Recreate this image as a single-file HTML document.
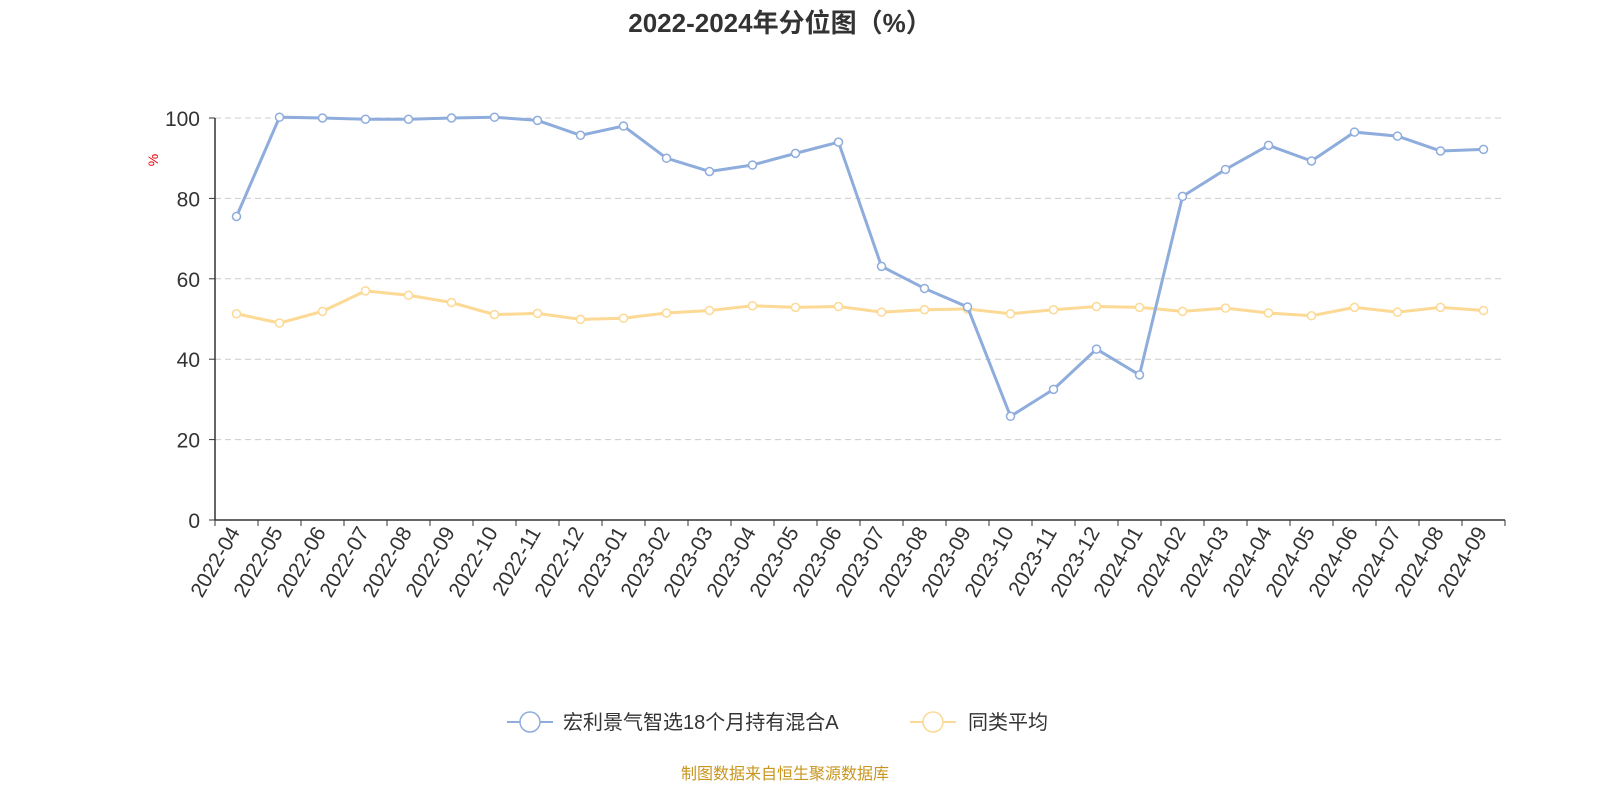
<!DOCTYPE html>
<html><head><meta charset="utf-8"><style>
body{margin:0;background:#fff;width:1600px;height:800px;overflow:hidden}
svg text{font-family:"Liberation Sans","Noto Sans CJK SC",sans-serif}
</style></head><body>
<svg id="s" width="1600" height="800" xmlns="http://www.w3.org/2000/svg">
<text x="780" y="32" text-anchor="middle" font-size="26" font-weight="bold" fill="#333">2022-2024年分位图（%）</text>
<text x="158" y="160" font-size="14" fill="#e00" transform="rotate(-90 158 160)" text-anchor="middle">%</text>
<g id="grid"></g>
<line x1="215" y1="118" x2="215" y2="520" stroke="#333" stroke-width="1.5"/>
<line x1="215" y1="520" x2="1505" y2="520" stroke="#333" stroke-width="1.5"/>
<g id="ax"></g>
<g id="ser"></g>
<line x1="507" y1="722" x2="553" y2="722" stroke="#8eacdc" stroke-width="2"/>
<circle cx="530" cy="722" r="10" fill="#fff" stroke="#8eacdc" stroke-width="1.5"/>
<text x="563" y="729" font-size="20" fill="#333">宏利景气智选18个月持有混合A</text>
<line x1="910" y1="722" x2="956" y2="722" stroke="#fcd994" stroke-width="2"/>
<circle cx="933" cy="722" r="10" fill="#fff" stroke="#fcd994" stroke-width="1.5"/>
<text x="968" y="729" font-size="20" fill="#333">同类平均</text>
<text x="785" y="779" text-anchor="middle" font-size="16" fill="#c8961e">制图数据来自恒生聚源数据库</text>
</svg>
<script>
var NS="http://www.w3.org/2000/svg";
function el(p,t,a,tx){var e=document.createElementNS(NS,t);for(var k in a)e.setAttribute(k,a[k]);if(tx!=null)e.textContent=tx;document.getElementById(p).appendChild(e);}
function Y(v){return 520-v*4.02;}
for(var v=0;v<=100;v+=20){var y=Y(v);if(v>0)el("grid","line",{x1:215,x2:1505,y1:y,y2:y,stroke:"#ccc","stroke-dasharray":"6,4"});
el("ax","line",{x1:209,x2:215,y1:y,y2:y,stroke:"#333"});
el("ax","text",{x:200,y:y+8,"text-anchor":"end","font-size":21,fill:"#333"},v);}
var labels=[];for(var i=0;i<30;i++){var m=(3+i)%12+1,yr=2022+Math.floor((3+i)/12);labels.push(yr+"-"+(m<10?"0"+m:m));}
for(var i=0;i<=30;i++){var x=215+43*i;el("ax","line",{x1:x,x2:x,y1:520,y2:526,stroke:"#333"});}
for(var i=0;i<30;i++){var x=215+21.5+43*i;
el("ax","text",{x:0,y:0,"text-anchor":"end","font-size":21,fill:"#333",transform:"translate("+(x+4)+",532) rotate(-60)"},labels[i]);}
var A=[75.5,100.2,100,99.7,99.7,100,100.2,99.4,95.7,98,90,86.7,88.3,91.2,94,63.1,57.6,53,25.8,32.5,42.5,36.1,80.5,87.2,93.2,89.3,96.5,95.5,91.8,92.2];
var B=[51.3,49,51.9,57,55.9,54.1,51.1,51.4,49.9,50.2,51.5,52.1,53.3,52.9,53.1,51.7,52.3,52.5,51.3,52.3,53.1,52.9,51.9,52.7,51.5,50.8,52.9,51.7,52.9,52.1];
[[B,"#fcd994"],[A,"#8eacdc"]].forEach(function(s){var pts=s[0].map(function(v,i){return (236.5+43*i)+","+Y(v)}).join(" ");
el("ser","polyline",{points:pts,fill:"none",stroke:s[1],"stroke-width":3});
s[0].forEach(function(v,i){el("ser","circle",{cx:236.5+43*i,cy:Y(v),r:4,fill:"#fff",stroke:s[1],"stroke-width":1.5});});});
</script>
</body></html>
